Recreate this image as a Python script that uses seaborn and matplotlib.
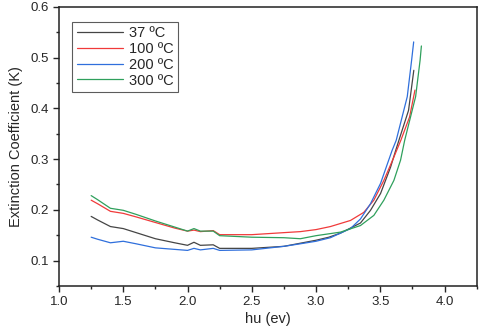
#!/usr/bin/env python3

import pandas as pd
import numpy as np
import matplotlib
matplotlib.use("Agg")
import matplotlib.pyplot as plt
from matplotlib.ticker import MultipleLocator
import seaborn as sns

# photon energy (eV) and extinction coefficient
hv_37 = [1.25, 1.30, 1.40, 1.50, 1.60, 1.75, 1.90, 2.00, 2.05, 2.10, 2.20, 2.25,
         2.50, 2.75, 3.00, 3.10, 3.19, 3.346, 3.424, 3.502, 3.58, 3.62, 3.645, 3.72, 3.761]
k_37 = [0.187, 0.180, 0.167, 0.163, 0.155, 0.143, 0.135, 0.130, 0.136, 0.130, 0.131, 0.124,
        0.124, 0.128, 0.140, 0.146, 0.154, 0.174, 0.199, 0.232, 0.284, 0.317, 0.337, 0.396, 0.475]

hv_100 = [1.25, 1.30, 1.40, 1.50, 1.60, 1.75, 1.90, 2.00, 2.05, 2.10, 2.20, 2.25,
          2.50, 2.75, 2.878, 3.00, 3.112, 3.268, 3.372, 3.45, 3.528, 3.606, 3.66, 3.728, 3.77]
k_100 = [0.219, 0.212, 0.197, 0.193, 0.186, 0.175, 0.164, 0.158, 0.160, 0.157, 0.159, 0.151,
         0.151, 0.155, 0.157, 0.161, 0.167, 0.179, 0.195, 0.219, 0.258, 0.304, 0.337, 0.383, 0.436]

hv_200 = [1.25, 1.30, 1.40, 1.50, 1.60, 1.75, 1.90, 2.00, 2.05, 2.10, 2.20, 2.25,
          2.50, 2.75, 2.878, 3.00, 3.112, 3.268, 3.346, 3.424, 3.502, 3.592, 3.624, 3.71, 3.744, 3.76]
k_200 = [0.146, 0.142, 0.135, 0.138, 0.133, 0.125, 0.122, 0.120, 0.124, 0.121, 0.124, 0.120,
         0.121, 0.128, 0.133, 0.138, 0.145, 0.163, 0.182, 0.212, 0.252, 0.317, 0.337, 0.423, 0.495, 0.531]

hv_300 = [1.25, 1.30, 1.40, 1.50, 1.60, 1.75, 1.90, 2.00, 2.05, 2.10, 2.20, 2.25,
          2.50, 2.75, 2.878, 3.00, 3.19, 3.346, 3.45, 3.528, 3.606, 3.658, 3.69, 3.775, 3.81, 3.82]
k_300 = [0.228, 0.220, 0.203, 0.199, 0.191, 0.178, 0.166, 0.158, 0.163, 0.158, 0.158, 0.149,
         0.146, 0.145, 0.143, 0.149, 0.156, 0.169, 0.189, 0.219, 0.258, 0.298, 0.337, 0.423, 0.495, 0.523]

labels = ["37 ºC", "100 ºC", "200 ºC", "300 ºC"]
colors = ["#454545", "#f03a3a", "#2f6fdc", "#2fa05c"]

frames = []
for lab, xs, ys in zip(labels, [hv_37, hv_100, hv_200, hv_300], [k_37, k_100, k_200, k_300]):
    frames.append(pd.DataFrame({"hv": xs, "k": ys, "sample": lab}))
df = pd.concat(frames, ignore_index=True)

sns.set_style("ticks")
plt.rcParams["font.family"] = ["Liberation Sans", "DejaVu Sans"]

fig = plt.figure(figsize=(4.8, 3.29), dpi=100)
ax = fig.add_axes([0.123, 0.131, 0.870, 0.848])

sns.lineplot(data=df, x="hv", y="k", hue="sample", palette=colors,
             sort=False, estimator=None, linewidth=0.9, ax=ax)

ax.set_xlim(1.0, 4.25)
ax.set_ylim(0.05, 0.6)
ax.xaxis.set_major_locator(MultipleLocator(0.5))
ax.xaxis.set_minor_locator(MultipleLocator(0.25))
ax.yaxis.set_major_locator(MultipleLocator(0.1))
ax.yaxis.set_minor_locator(MultipleLocator(0.05))
ax.tick_params(which="major", direction="out", length=4, width=1, labelsize=9.5)
ax.tick_params(which="minor", direction="out", length=2.5, width=1)
ax.set_xticks([1.0, 1.5, 2.0, 2.5, 3.0, 3.5, 4.0])
ax.set_xticklabels(["1.0", "1.5", "2.0", "2.5", "3.0", "3.5", "4.0"])
ax.set_yticks([0.1, 0.2, 0.3, 0.4, 0.5, 0.6])
ax.set_yticklabels(["0.1", "0.2", "0.3", "0.4", "0.5", "0.6"])
for s in ax.spines.values():
    s.set_linewidth(1.1)
    s.set_color("#222222")

ax.set_xlabel("hu (ev)", fontsize=10.5, labelpad=3)
ax.set_ylabel("Extinction Coefficient (K)", fontsize=10.5, labelpad=5)

leg = ax.legend(loc="upper left", bbox_to_anchor=(0.032, 0.946), fontsize=10.5,
                frameon=True, fancybox=False, handlelength=3.2, handletextpad=0.4,
                borderpad=0.3, labelspacing=0.12, borderaxespad=0)
leg.get_frame().set_edgecolor("#333333")
leg.get_frame().set_linewidth(0.8)

fig.savefig("out.png", dpi=100)
